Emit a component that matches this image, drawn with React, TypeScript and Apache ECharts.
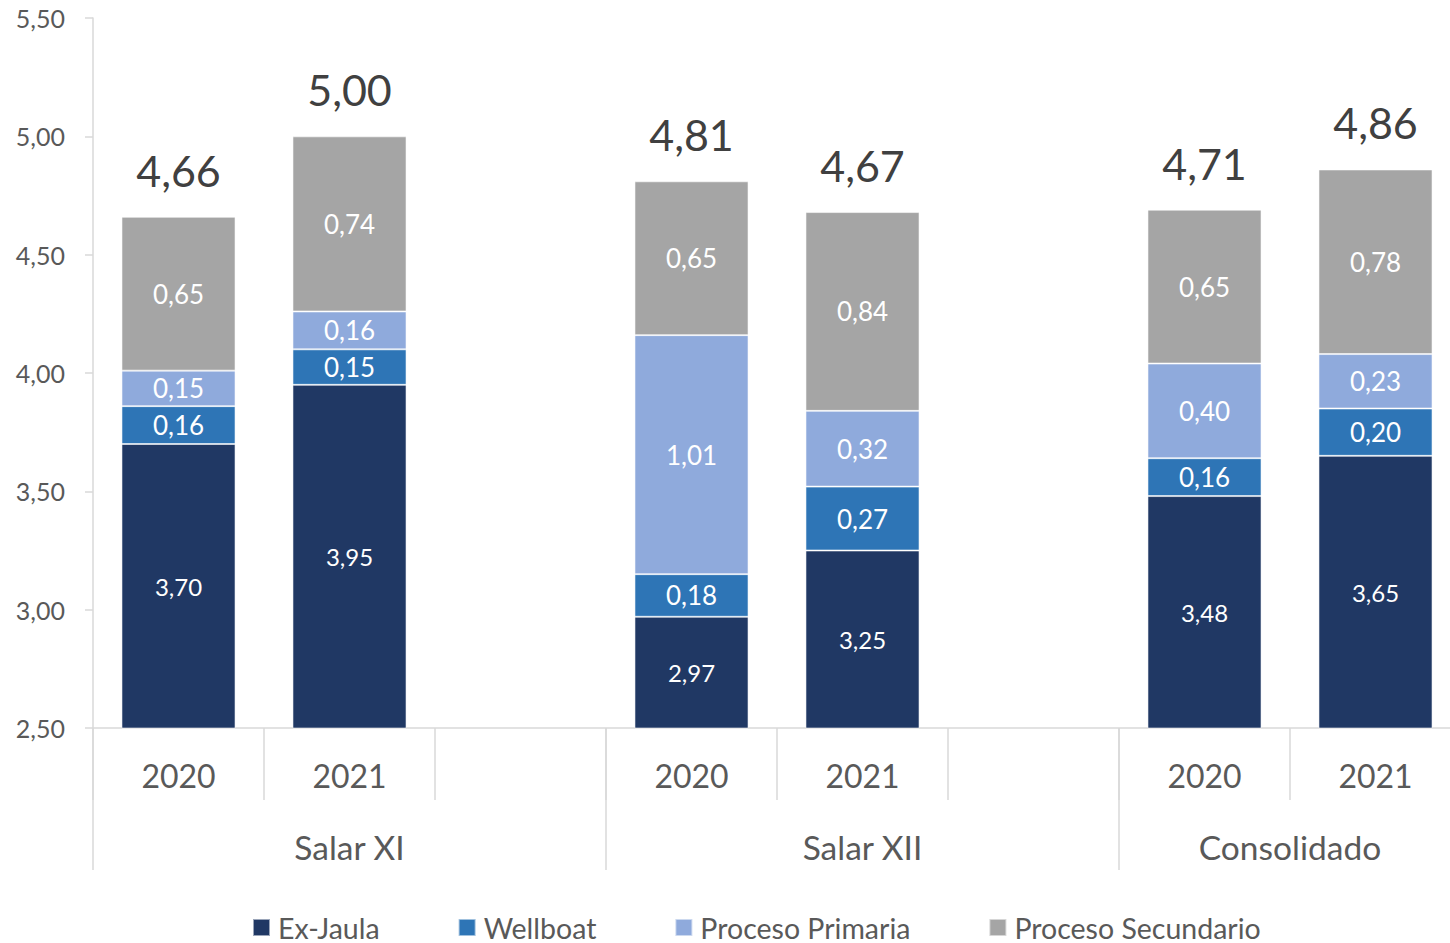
import React, { useEffect, useRef } from "react";
import * as echarts from "echarts";

const yearLabels = ["2020", "2021", "", "2020", "2021", "", "2020", "2021"];
const groupNames = ["Salar XI", "Salar XII", "Consolidado"];
const groupCenters = [1.5, 4.5, 7];
const groupBounds = [0, 3, 6, 8];

const exJaula = [3.7, 3.95, null, 2.97, 3.25, null, 3.48, 3.65];
const wellboat = [0.16, 0.15, null, 0.18, 0.27, null, 0.16, 0.2];
const procesoPrimaria = [0.15, 0.16, null, 1.01, 0.32, null, 0.4, 0.23];
const procesoSecundario = [0.65, 0.74, null, 0.65, 0.84, null, 0.65, 0.78];
const totals = [4.66, 5.0, null, 4.81, 4.67, null, 4.71, 4.86];

const seriesNames = ["Ex-Jaula", "Wellboat", "Proceso Primaria", "Proceso Secundario"];
const colors = ["#203864", "#2E75B6", "#8FAADC", "#A5A5A5"];

const FONT = "Lato";
const fmt = (v: number) => v.toFixed(2).replace(".", ",");

export default function App() {
  const ref = useRef<HTMLDivElement>(null);
  useEffect(() => {
    if (!ref.current) return;
    const chart = echarts.init(ref.current, null, { renderer: "svg" });
    const dataSets = [exJaula, wellboat, procesoPrimaria, procesoSecundario];
    const series: any[] = dataSets.map((d, i) => ({
      name: seriesNames[i],
      type: "bar",
      stack: "total",
      barCategoryGap: "33.3%",
      data: d,
      itemStyle: {
        color: colors[i],
        borderColor: "rgba(255,255,255,0.55)",
        borderWidth: 1,
      },
      label: {
        show: true,
        position: "inside",
        color: "#FFFFFF",
        fontFamily: FONT,
        fontSize: i === 0 ? 24 : 26,
        formatter: (p: any) => fmt(p.value),
      },
    }));
    series.push({
      name: "Total",
      type: "bar",
      stack: "total",
      data: totals.map((t) => (t == null ? null : 0)),
      itemStyle: { color: "transparent" },
      label: {
        show: true,
        position: "top",
        distance: 25,
        color: "#404040",
        fontFamily: FONT,
        fontSize: 43,
        formatter: (p: any) => fmt(totals[p.dataIndex] as number),
      },
      tooltip: { show: false },
    });

    chart.setOption({
      animation: false,
      textStyle: { fontFamily: FONT },
      grid: { left: 93, top: 18, width: 1368, height: 710, containLabel: false },
      legend: {
        data: seriesNames,
        left: 252,
        top: 913,
        padding: 0,
        icon: "rect",
        itemWidth: 17,
        itemHeight: 17,
        itemGap: 78,
        textStyle: { fontSize: 28.5, color: "#595959", fontFamily: FONT, padding: [0, 0, 0, 3] },
      },
      xAxis: [
        {
          type: "category",
          data: yearLabels,
          position: "bottom",
          axisLine: { show: true, lineStyle: { color: "#D9D9D9", width: 1.5 } },
          axisTick: {
            show: true,
            interval: 0,
            alignWithLabel: false,
            length: 72,
            lineStyle: { color: "#D9D9D9", width: 1.5 },
          },
          axisLabel: {
            interval: 0,
            fontSize: 32,
            color: "#595959",
            fontFamily: FONT,
            margin: 31,
          },
        },
        {
          type: "value",
          min: 0,
          max: 8,
          position: "bottom",
          splitLine: { show: false },
          axisLine: { show: false },
          axisTick: {
            show: true,
            customValues: groupBounds,
            length: 142,
            lineStyle: { color: "#D9D9D9", width: 1.5 },
          },
          axisLabel: {
            show: true,
            customValues: groupCenters,
            fontSize: 33.5,
            color: "#595959",
            fontFamily: FONT,
            margin: 102,
            formatter: (v: number) => groupNames[groupCenters.indexOf(v)] ?? "",
          },
        },
      ],
      yAxis: {
        type: "value",
        min: 2.5,
        max: 5.5,
        interval: 0.5,
        splitLine: { show: false },
        axisLine: { show: true, lineStyle: { color: "#D9D9D9", width: 1.5 } },
        axisTick: { show: true, length: 8, lineStyle: { color: "#D9D9D9", width: 1.5 } },
        axisLabel: {
          fontSize: 25,
          color: "#595959",
          fontFamily: FONT,
          margin: 28,
          formatter: (v: number) => fmt(v),
        },
      },
      series,
    });
    return () => chart.dispose();
  }, []);

  return (
    <div
      style={{
        position: "fixed",
        left: 0,
        top: 0,
        width: 1450,
        height: 943,
        overflow: "hidden",
        background: "#FFFFFF",
      }}
    >
      <div ref={ref} style={{ width: 1475, height: 943 }} />
    </div>
  );
}
